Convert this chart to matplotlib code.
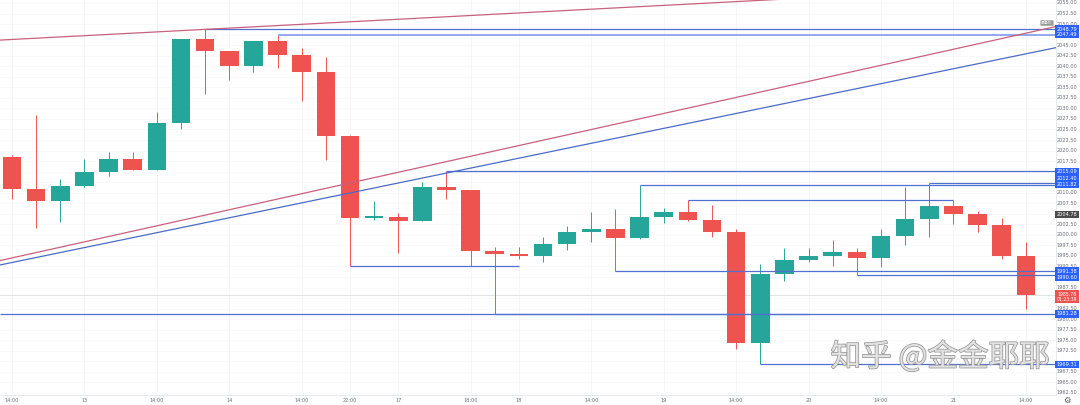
import matplotlib
matplotlib.use("Agg")
import matplotlib.pyplot as plt
import matplotlib.patheffects as pe
import numpy as np

# ---------------- data ----------------
opens  = [2018.40, 2010.95, 2007.96, 2011.59, 2014.91, 2018.00, 2015.46, 2026.54, 2046.46, 2043.69,
          2039.99, 2045.92, 2042.74, 2038.63, 2023.52, 2004.12, 2004.24, 2003.29, 2011.43, 2010.57,
          1996.11, 1995.46, 1995.06, 1997.77, 2000.75, 2001.32, 1999.19, 2004.17, 2005.36, 2003.53,
          2000.68, 1974.28, 1990.79, 1994.11, 1994.99, 1995.94, 1994.44, 1999.73, 2003.77, 2006.78,
          2004.88, 2002.27, 1994.99]
highs  = [2018.90, 2028.43, 2013.18, 2018.07, 2019.73, 2019.59, 2029.15, 2046.50, 2048.79, 2043.70,
          2045.95, 2047.49, 2044.26, 2042.26, 2023.60, 2008.11, 2005.12, 2012.61, 2015.09, 2010.60,
          1997.20, 1997.20, 1999.43, 2002.04, 2005.36, 2006.21, 2011.82, 2006.38, 2008.27, 2007.09,
          2001.47, 1993.09, 1996.82, 1996.89, 1998.79, 1996.82, 2001.39, 2011.43, 2012.40, 2008.27,
          2005.66, 2004.00, 1998.31]
lows   = [2008.44, 2001.56, 2003.13, 2011.35, 2014.04, 2015.40, 2015.40, 2025.19, 2033.34, 2036.74,
          2038.70, 2039.51, 2031.83, 2017.76, 1992.62, 2003.60, 1995.63, 2003.20, 2008.44, 1992.62,
          1981.20, 1994.21, 1993.50, 1996.41, 1998.38, 1991.38, 1999.10, 2002.89, 2003.40, 1999.57,
          1972.93, 1969.31, 1989.13, 1993.57, 1992.62, 1990.60, 1992.31, 1997.60, 1999.43, 2002.58,
          2000.75, 1994.21, 1982.35]
closes = [2010.95, 2007.96, 2011.59, 2014.91, 2018.00, 2015.46, 2026.54, 2046.46, 2043.69, 2039.99,
          2045.92, 2042.74, 2038.63, 2023.52, 2004.07, 2004.30, 2003.29, 2011.43, 2010.57, 1996.11,
          1995.46, 1995.06, 1997.77, 2000.68, 2001.32, 1999.19, 2004.17, 2005.36, 2003.53, 2000.68,
          1974.28, 1990.79, 1994.11, 1994.99, 1995.94, 1994.44, 1999.73, 2003.77, 2006.78, 2004.88,
          2002.27, 1994.99, 1985.78]

time_tick_pos    = [0, 3, 6, 9, 12, 14, 16, 19, 21, 24, 27, 30, 33, 36, 39, 42]
time_tick_labels = ["14:00", "13", "14:00", "14", "14:00", "22:00", "17", "18:00", "18",
                    "14:00", "19", "14:00", "20", "14:00", "21", "14:00"]

# horizontal levels: price, start bar, end bar (None = to right edge)
level_prices = [2048.79, 2047.49, 2015.09, 2012.40, 2011.82, 2008.27, 1992.62, 1991.38, 1990.60, 1981.28, 1981.20, 1969.31]
level_starts = [8, 11, 18, 38, 26, 28, 14, 25, 35, -0.5, 20, 31]
level_ends   = [None, None, None, None, None, 39, 21, None, None, None, 33, None]

# trend lines: (bar, price) endpoints
trend_red_top_x  = [-0.5, 28.1]
trend_red_top_y  = [2046.2, 2054.76]
trend_red_low_x  = [-0.5, 42.92]
trend_red_low_y  = [1993.9, 2049.0]
trend_blue_x     = [-0.5, 42.92]
trend_blue_y     = [1992.86, 2044.02]

box_blue_prices = [2048.79, 2047.49, 2015.09, 2012.40, 2011.82, 1991.38, 1990.60, 1981.28, 1969.31]
box_grey_price  = 2004.78
last_price      = 1985.78
countdown       = "01:23:39"

# label nudges (pixels, positive = down) to avoid overlapping boxes
label_nudge_px = {2012.40: -3.6, 2011.82: -1.0, 1990.60: 2.6}

# ---------------- figure ----------------
W, H = 1080, 405
fig = plt.figure(figsize=(W / 100, H / 100), dpi=100)
fig.patch.set_facecolor("white")
plot_w, plot_h = 1056, 395
ax = fig.add_axes([0, (H - plot_h) / H, plot_w / W, plot_h / H])
ax.set_facecolor("white")

ymax, ymin = 2055.71, 1962.02
xmin, xmax = -0.497, 43.25
ax.set_xlim(xmin, xmax)
ax.set_ylim(ymin, ymax)
px_per_unit = plot_h / (ymax - ymin)

# grid
price_ticks = np.arange(1962.5, 2055.01, 2.5)
for p in price_ticks:
    ax.axhline(p, color="#f7f8fa", lw=0.6, zorder=0)
for t in time_tick_pos:
    ax.axvline(t, color="#f4f5f7", lw=0.6, zorder=0)

# current price line
ax.axhline(last_price, color="#e4e4e4", lw=0.8, zorder=1)

# candles
up_c, dn_c = "#26a69a", "#ef5350"
idx = np.arange(len(opens))
o = np.array(opens); c = np.array(closes); h = np.array(highs); l = np.array(lows)
cols = [up_c if cc >= oo else dn_c for oo, cc in zip(o, c)]
ax.vlines(idx, l, h, colors=cols, lw=0.7, zorder=2)
body_bottom = np.minimum(o, c)
body_h = np.maximum(np.abs(c - o), 0.25)
ax.bar(idx, body_h, bottom=body_bottom, width=0.77, color=cols, edgecolor="none", zorder=3)

# levels
lvl_col = "#5070d0"
for p, s, e in zip(level_prices, level_starts, level_ends):
    e2 = xmax if e is None else e
    s2 = xmin if s < 0 else s
    if abs(p - 2047.49) < 1e-6:
        ax.plot([s2, e2], [p, p], color="#93a8ee", lw=1.4, zorder=4, solid_capstyle="butt")
    else:
        ax.plot([s2, e2], [p, p], color=lvl_col, lw=0.9, zorder=4, solid_capstyle="butt")

def extend(xs, ys):
    slope = (ys[1] - ys[0]) / (xs[1] - xs[0])
    xx = np.array([xmin, xmax])
    return xx, ys[0] + slope * (xx - xs[0])

for xs, ys, col in [(trend_red_top_x, trend_red_top_y, "#c8607e"),
                    (trend_red_low_x, trend_red_low_y, "#c8607e"),
                    (trend_blue_x, trend_blue_y, "#4a6cc8")]:
    xx, yy = extend(xs, ys)
    ax.plot(xx, yy, color=col, lw=0.9, zorder=4)

for sp in ["top", "left"]:
    ax.spines[sp].set_visible(False)
for sp in ["bottom", "right"]:
    ax.spines[sp].set_color("#e3e5ea")
    ax.spines[sp].set_linewidth(0.6)
ax.set_xticks([]); ax.set_yticks([])

# ---------------- right price scale ----------------
ytr = ax.get_yaxis_transform()
lab_x = 1067 / plot_w

def ypx(p):
    return (ymax - p) * px_per_unit

boxes = [(p, "#2962ff") for p in box_blue_prices] + [(box_grey_price, "#4b4b4b")]
box_px = []
for p, col in boxes:
    d = ypx(p) + label_nudge_px.get(p, 0.0)
    box_px.append(d)
    yp = ymax - d / px_per_unit
    ax.text(lab_x, yp, f"{p:.2f}", transform=ytr, ha="center", va="center",
            fontsize=3.6, color="white", clip_on=False, zorder=10,
            bbox=dict(boxstyle="square,pad=0.25", fc=col, ec="none"))
box_px.append(ypx(last_price) + 2)
ax.text(lab_x, last_price - 0.45, f"{last_price:.2f}\n{countdown}", transform=ytr, ha="center",
        va="center", fontsize=3.3, color="white", clip_on=False, zorder=10, linespacing=1.1,
        bbox=dict(boxstyle="square,pad=0.3", fc="#ef5350", ec="none"))

for p in price_ticks:
    yp = ypx(p)
    if any(abs(yp - b) < 4.5 for b in box_px):
        continue
    ax.text(lab_x, p, f"{p:.2f}", transform=ytr, ha="center", va="center",
            fontsize=3.6, color="#6a6d78", clip_on=False)

# label near trend end
ax.text(1047 / plot_w, ymax - 23 / px_per_unit, "最高价", transform=ytr, ha="center", va="center",
        fontsize=2.8, color="white", family=["Noto Sans CJK SC", "DejaVu Sans"], zorder=10,
        bbox=dict(boxstyle="round,pad=0.2", fc="#9a9a9a", ec="none"))

# ---------------- time scale ----------------
xtr = ax.get_xaxis_transform()
for t, s in zip(time_tick_pos, time_tick_labels):
    ax.text(t, -5 / plot_h, s, transform=xtr, ha="center", va="center",
            fontsize=3.6, color="#6a6d78", clip_on=False)
fig.text(1067 / W, 5 / H, "⚙", ha="center", va="center", fontsize=6, color="#555555")

# watermark
fig.text(940 / W, (H - 357) / H, "知乎 @金金耶耶", ha="center", va="center", fontsize=22,
         color="#e2e2e2", family=["Noto Sans CJK SC", "DejaVu Sans"], zorder=20,
         path_effects=[pe.withStroke(linewidth=1.1, foreground="#959595")])

fig.savefig("out.png", dpi=100, facecolor="white")
